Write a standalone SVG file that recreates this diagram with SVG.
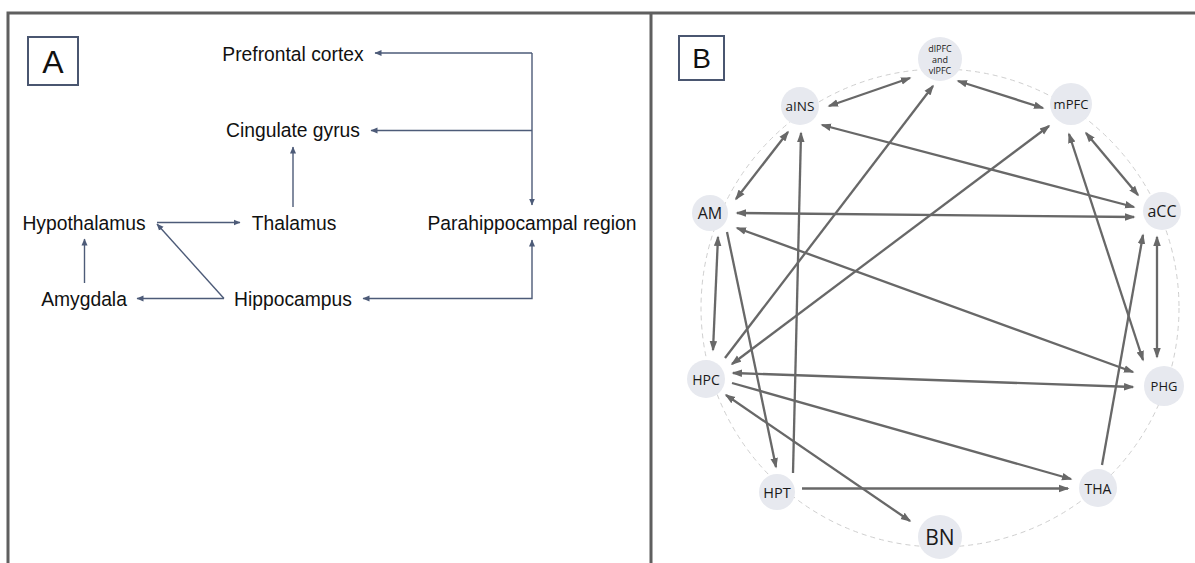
<svg xmlns="http://www.w3.org/2000/svg" width="1195" height="563" viewBox="0 0 1195 563">
<style>
.frame{stroke:#5f5f5f;stroke-width:3;fill:none}
.lbl{stroke:#4a5670;stroke-width:2;fill:none}
.ta{font-family:"Liberation Sans",Arial,sans-serif;font-size:19.3px;fill:#111;text-anchor:middle}
.ea{stroke:#4d5b78;stroke-width:1.4;fill:none}
.node{fill:#e7e9ef}
.tb{font-family:"Open Sans","DejaVu Sans",sans-serif;fill:#1a1a1a;text-anchor:middle;dominant-baseline:central}
.eb{stroke:#686868;stroke-width:2.3;fill:none}
</style>
<defs>
<marker id="ha" markerUnits="userSpaceOnUse" markerWidth="8" markerHeight="7" refX="6.5" refY="3" orient="auto-start-reverse" viewBox="0 0 8 6"><path d="M0,0 L7,3 L0,6 z" fill="#4d5b78"/></marker>
<marker id="hb" markerUnits="userSpaceOnUse" markerWidth="11" markerHeight="9" refX="9" refY="3.75" orient="auto-start-reverse" viewBox="0 0 11 7.5"><path d="M0,0 L10.5,3.75 L0,7.5 z" fill="#686868"/></marker>
</defs>
<rect width="1195" height="563" fill="#fff"/>
<g id="frame">
<path class="frame" d="M8,563 V13 H1195 M651,13 V563"/>
</g>
<!-- Panel A -->
<g id="labelA"><rect class="lbl" x="28" y="37" width="50" height="48"/><text x="53" y="73" font-family="Liberation Sans,Arial,sans-serif" font-size="32" text-anchor="middle" fill="#111">A</text></g>
<g id="prefrontal"><text class="ta" x="293" y="60.5">Prefrontal cortex</text></g>
<g id="cingulate"><text class="ta" x="293" y="137">Cingulate gyrus</text></g>
<g id="hypothalamus"><text class="ta" x="84" y="230">Hypothalamus</text></g>
<g id="thalamus"><text class="ta" x="294" y="230">Thalamus</text></g>
<g id="parahippocampal"><text class="ta" x="532" y="230">Parahippocampal region</text></g>
<g id="amygdala"><text class="ta" x="84" y="305.5">Amygdala</text></g>
<g id="hippocampus"><text class="ta" x="293" y="305.5">Hippocampus</text></g>
<g id="connectorsA">
<path class="ea" d="M532,53 H375" marker-end="url(#ha)"/>
<path class="ea" d="M532,53 V205" marker-end="url(#ha)"/>
<path class="ea" d="M532,130.5 H371" marker-end="url(#ha)"/>
<path class="ea" d="M293,207 V147" marker-end="url(#ha)"/>
<path class="ea" d="M157,222.5 H240" marker-end="url(#ha)"/>
<path class="ea" d="M224,298.5 L157,224" marker-end="url(#ha)"/>
<path class="ea" d="M84.5,283 V239" marker-end="url(#ha)"/>
<path class="ea" d="M224,298.5 H137" marker-end="url(#ha)"/>
<path class="ea" d="M532,240 V298.5 H363" marker-start="url(#ha)" marker-end="url(#ha)"/>
</g>
<!-- Panel B -->
<g id="labelB"><rect class="lbl" x="679" y="36" width="45" height="44"/><text x="701.5" y="68" font-family="Liberation Sans,Arial,sans-serif" font-size="28" text-anchor="middle" fill="#111">B</text></g>
<circle cx="940" cy="308" r="239" fill="none" stroke="#cfcfcf" stroke-width="1" stroke-dasharray="5,4"/>
<g id="connectorsB">
<line class="eb" x1="829" y1="106" x2="910" y2="78" marker-start="url(#hb)" marker-end="url(#hb)"/>
<line class="eb" x1="958" y1="81" x2="1043" y2="108" marker-start="url(#hb)" marker-end="url(#hb)"/>
<line class="eb" x1="822" y1="125" x2="1134" y2="207" marker-start="url(#hb)" marker-end="url(#hb)"/>
<line class="eb" x1="788" y1="132" x2="736" y2="199" marker-start="url(#hb)" marker-end="url(#hb)"/>
<line class="eb" x1="737" y1="213" x2="1134" y2="217" marker-start="url(#hb)" marker-end="url(#hb)"/>
<line class="eb" x1="1086" y1="133" x2="1138" y2="195" marker-start="url(#hb)" marker-end="url(#hb)"/>
<line class="eb" x1="1157" y1="237" x2="1157" y2="357" marker-start="url(#hb)" marker-end="url(#hb)"/>
<line class="eb" x1="1102" y1="465" x2="1143" y2="235" marker-end="url(#hb)"/>
<line class="eb" x1="1069" y1="134" x2="1143" y2="360" marker-start="url(#hb)" marker-end="url(#hb)"/>
<line class="eb" x1="725" y1="358" x2="933" y2="86" marker-end="url(#hb)"/>
<line class="eb" x1="1049" y1="126" x2="732" y2="364" marker-start="url(#hb)" marker-end="url(#hb)"/>
<line class="eb" x1="793" y1="473" x2="801" y2="133" marker-end="url(#hb)"/>
<line class="eb" x1="727" y1="232" x2="776" y2="467" marker-end="url(#hb)"/>
<line class="eb" x1="718" y1="237" x2="713" y2="350" marker-start="url(#hb)" marker-end="url(#hb)"/>
<line class="eb" x1="737" y1="228" x2="1133" y2="372" marker-start="url(#hb)" marker-end="url(#hb)"/>
<line class="eb" x1="733" y1="373" x2="1133" y2="387" marker-start="url(#hb)" marker-end="url(#hb)"/>
<line class="eb" x1="732" y1="383" x2="1071" y2="479" marker-end="url(#hb)"/>
<line class="eb" x1="802" y1="488.5" x2="1068" y2="488.5" marker-end="url(#hb)"/>
<line class="eb" x1="726" y1="395" x2="910" y2="521" marker-start="url(#hb)" marker-end="url(#hb)"/>
</g>
<g id="dlPFC"><circle class="node" cx="940" cy="59" r="22"/><text class="tb" font-size="9" x="940" y="48">dlPFC</text><text class="tb" font-size="9" x="940" y="59">and</text><text class="tb" font-size="9" x="940" y="70">vlPFC</text></g>
<g id="aINS"><circle class="node" cx="800" cy="106" r="19"/><text class="tb" font-size="13.5" x="800" y="106">aINS</text></g>
<g id="mPFC"><circle class="node" cx="1071" cy="104" r="21"/><text class="tb" font-size="13" x="1071" y="104">mPFC</text></g>
<g id="AM"><circle class="node" cx="710" cy="213" r="18"/><text class="tb" font-size="16" x="710" y="213">AM</text></g>
<g id="aCC"><circle class="node" cx="1162" cy="211" r="19"/><text class="tb" font-size="16" x="1162" y="211">aCC</text></g>
<g id="HPC"><circle class="node" cx="706" cy="379" r="19"/><text class="tb" font-size="14" x="706" y="379">HPC</text></g>
<g id="PHG"><circle class="node" cx="1164" cy="386" r="20"/><text class="tb" font-size="13" x="1164" y="386">PHG</text></g>
<g id="HPT"><circle class="node" cx="777" cy="492" r="18"/><text class="tb" font-size="14.5" x="777" y="492">HPT</text></g>
<g id="THA"><circle class="node" cx="1098" cy="488" r="19"/><text class="tb" font-size="14" x="1098" y="488">THA</text></g>
<g id="BN"><circle class="node" cx="940" cy="537" r="22"/><text class="tb" font-size="21" x="940" y="537">BN</text></g>
</svg>
